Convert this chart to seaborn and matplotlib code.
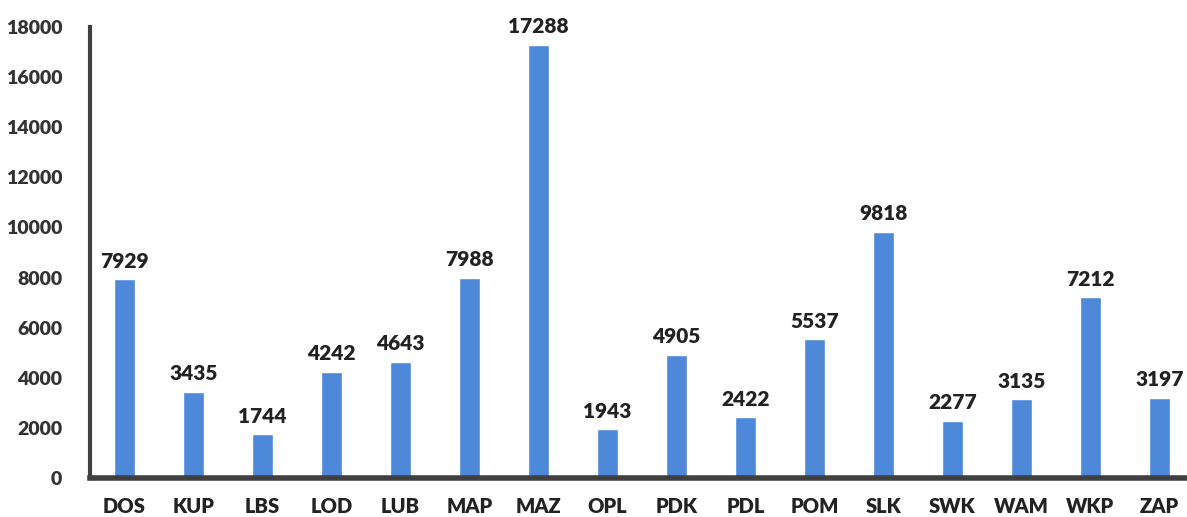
import matplotlib
matplotlib.use("Agg")
import matplotlib.pyplot as plt
import seaborn as sns
import pandas as pd

categories = ["DOS", "KUP", "LBS", "LOD", "LUB", "MAP", "MAZ", "OPL",
              "PDK", "PDL", "POM", "SLK", "SWK", "WAM", "WKP", "ZAP"]
values = [7929, 3435, 1744, 4242, 4643, 7988, 17288, 1943,
          4905, 2422, 5537, 9818, 2277, 3135, 7212, 3197]
yticks = [0, 2000, 4000, 6000, 8000, 10000, 12000, 14000, 16000, 18000]

sns.set_theme(style="white")
plt.rcParams['font.family'] = ['Lato', 'DejaVu Sans']

df = pd.DataFrame({"cat": categories, "val": values})

fig = plt.figure(figsize=(11.87, 5.17), dpi=100)
ax = fig.add_axes([0.0758, 0.0754, 0.93, 0.8724])
sns.barplot(data=df, x="cat", y="val", color="#4d88d9", width=0.31,
            saturation=1, ax=ax)

ax.set_ylim(0, 18000)
ax.set_xlim(-0.5, 15.5)
ax.set_yticks(yticks)
ax.set_yticklabels([str(t) for t in yticks], fontsize=14, fontweight="heavy", color="#333333")
ax.set_xticklabels(categories, fontsize=14.5, fontweight="heavy", color="#222222")
ax.tick_params(axis="both", length=0)
ax.tick_params(axis="y", pad=20)
ax.tick_params(axis="x", pad=14)
ax.set_xlabel("")
ax.set_ylabel("")

for s in ["top", "right"]:
    ax.spines[s].set_visible(False)
ax.spines["left"].set_color("#404040")
ax.spines["left"].set_linewidth(3)
ax.spines["bottom"].set_color("#404040")
ax.spines["bottom"].set_linewidth(4)

for i, v in enumerate(values):
    ax.text(i, v + 350, str(v), ha="center", va="bottom",
            fontsize=15, fontweight="heavy", color="#222222")

fig.savefig("out.png", dpi=100)
